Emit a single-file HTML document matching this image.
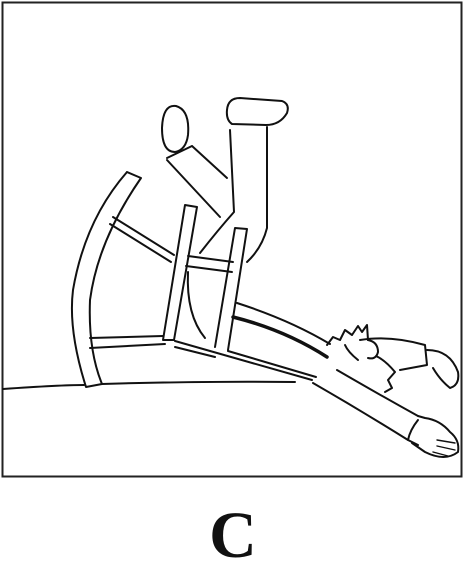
<!DOCTYPE html>
<html><head><meta charset="utf-8"><style>
html,body{margin:0;padding:0;background:#fff;width:464px;height:585px;overflow:hidden}
svg{position:absolute;left:0;top:0}
.l{fill:none;stroke:#111;stroke-width:2;stroke-linecap:round;stroke-linejoin:round}
</style></head><body>
<svg width="464" height="585" viewBox="0 0 464 585">
<rect x="2.5" y="2.5" width="459" height="474" fill="none" stroke="#222" stroke-width="2"/>
<g class="l">
<path d="M3 389 Q60 385 84 385 M102 384 Q200 381 295 382"/>
<path d="M127 172 L141 178 Q98 240 90 300 Q88 350 102 384 L86 387 Q68 330 73 290 Q85 220 127 172"/>
<path d="M113 217 L174 255 M110 224 L171 262"/>
<path d="M90 338 L163 336 M90 348 L165 344"/>
<path d="M163 340 L185 205 L197 207 L174 340 Z"/>
<path d="M215 347 L235 228 L247 229 L228 350"/>
<path d="M188 256 L233 262 M186 266 L232 272"/>
<path d="M175 341 L312 380 M175 347 L215 357 M228 351 L316 377"/>
<path d="M188 272 Q186 315 205 338"/>
<path d="M237 303 Q290 320 330 344"/>
<path stroke-width="3.5" d="M233 317 Q285 330 327 357"/>
<path d="M227 110 Q228 98 240 98 L282 101 Q290 104 287 113 Q280 125 266 125 L232 124 Q226 120 227 110 Z"/>
<path d="M230 130 L234 212 Q218 230 200 253 M267 127 L267 228 Q262 248 247 262"/>
<path d="M176 106 Q190 110 188 135 Q186 150 175 152 Q162 152 162 128 Q163 104 176 106 Z"/>
<path d="M167 158 L192 146 M167 160 L220 217 M192 146 L227 178"/>
<path d="M360 340 Q390 335 425 345 L427 365 L400 370"/>
<path d="M427 350 Q450 350 458 372 Q460 385 450 388 Q440 380 433 368"/>
<path d="M327 345 L333 337 L340 340 L345 330 L352 335 L358 326 L362 332 L367 325 L368 340 M358 360 Q348 352 345 345"/>
<path d="M368 340 Q378 342 378 352 Q376 360 368 358 M376 356 Q385 360 395 372 L388 380 L392 388 L385 392"/>
<path d="M337 370 Q380 395 418 416 M313 383 Q360 410 408 440 L418 445"/>
<path d="M418 416 L425 418 Q440 420 450 432 Q460 440 458 452 Q445 462 425 452 L412 443 M418 420 Q410 430 408 440"/>
<path stroke-width="1.4" d="M437 440 L455 443 M437 446 L455 450 M433 452 L448 456"/>
</g>
<text x="233" y="557" text-anchor="middle" font-family="Liberation Serif, serif" font-weight="bold" font-size="66" fill="#111">C</text>
</svg>
</body></html>
